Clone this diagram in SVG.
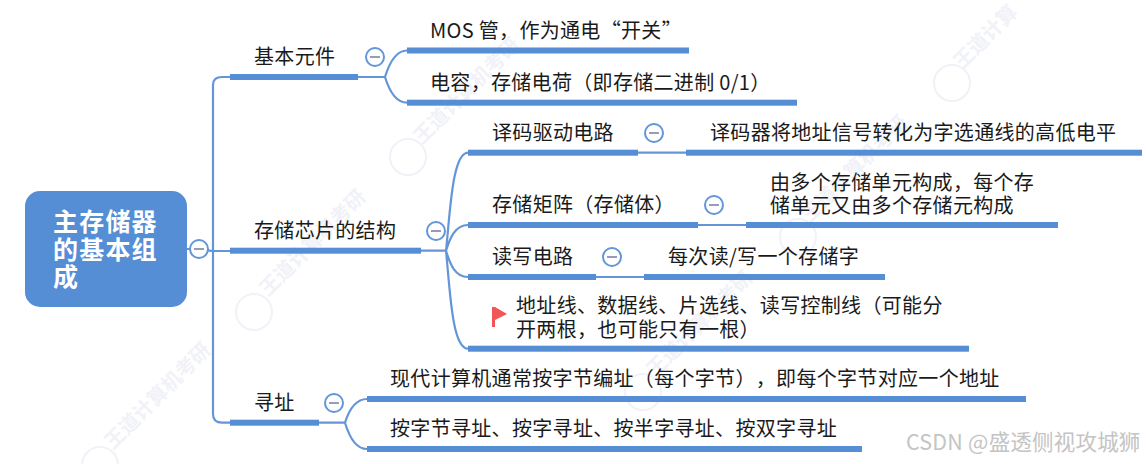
<svg xmlns="http://www.w3.org/2000/svg" width="1146" height="464" viewBox="0 0 1146 464">
<style>
text{font-family:"Noto Sans CJK SC","Liberation Sans",sans-serif;text-spacing-trim:space-all;}
.t{font-size:20px;fill:#1a1a1a;letter-spacing:.32px;}
.r{font-size:25px;fill:#fff;letter-spacing:1.2px;font-weight:700;}
.bar{fill:#558ed5;}
.c{fill:none;stroke:#6396d8;stroke-width:2.2;}
.o{fill:#fff;stroke:#6396d8;stroke-width:2;}
.m{stroke:#9a9ac0;stroke-width:2;}
.w{font-size:20px;fill:#f1f2f8;font-weight:700;}
.l{fill:none;stroke:#f1f2f8;stroke-width:2;}
</style>
<g id="watermarks">
<text class="w" transform="translate(422,145) rotate(-45)">王道计算机考研</text>
<text class="w" transform="translate(268,297) rotate(-45)">王道计算机考研</text>
<text class="w" transform="translate(113,450) rotate(-45)">王道计算机考研</text>
<text class="w" transform="translate(962,70) rotate(-45)">王道计算</text>
<text class="w" transform="translate(810,223) rotate(-45)">王道计算机考研</text>
<text class="w" transform="translate(655,378) rotate(-45)">王道计算机考研</text>
<circle class="l" cx="408" cy="157" r="18"/><circle class="l" cx="254" cy="312" r="18"/><circle class="l" cx="100" cy="465" r="18"/>
<circle class="l" cx="952" cy="83" r="18"/><circle class="l" cx="798" cy="237" r="18"/><circle class="l" cx="643" cy="392" r="18"/>
</g>
<g id="connectors">
<path class="c" d="M187 249H199C206 249 208 251 214 251H230M213 251V85Q213 77 222 77H230M213 251V414Q213 422.700 222 422.700H230"/>
<path class="c" d="M358 77H385M385 77C389 64 395 50.500 407 50.500M385 77C389 90 395 102.700 407 102.700"/>
<path class="c" d="M421 250.700H446M446 250.700C450 215 452 152.700 468 152.700M446 250.700C450 238 455 225 468 225M446 250.700C450 264 455 277 468 277M446 250.700C450 290 452 348.700 468 348.700"/>
<path class="c" d="M638 152.700H686M698 225H746M596 277H644"/>
<path class="c" d="M319 422.700H345M345 422.700C349 410 355 399 367 399M345 422.700C349 436 355 449 367 449"/>
</g>
<g id="root">
<rect x="25" y="191" width="162" height="116" rx="15" fill="#558ed5"/>
<text class="r" x="53" y="231">主存储器</text>
<text class="r" x="53" y="258.500">的基本组</text>
<text class="r" x="53" y="286">成</text>
<circle class="o" cx="199" cy="249" r="9"/><line class="m" x1="194" y1="249" x2="204" y2="249"/>
</g>
<g id="n1">
<rect class="bar" x="230" y="74" width="128" height="6"/>
<text class="t" x="254" y="64">基本元件</text>
<circle class="o" cx="375" cy="57" r="9"/><line class="m" x1="370" y1="57" x2="380" y2="57"/>
</g>
<g id="n1a"><rect class="bar" x="407" y="47.500" width="282" height="6"/><text class="t" x="430" y="38">MOS 管，作为通电“开关”</text></g>
<g id="n1b"><rect class="bar" x="407" y="99.700" width="390" height="6"/><text class="t" x="430" y="90">电容，存储电荷（即存储二进制 0/1）</text></g>
<g id="n2">
<rect class="bar" x="230" y="247.700" width="191" height="6"/>
<text class="t" x="254" y="238">存储芯片的结构</text>
<circle class="o" cx="436" cy="231" r="9"/><line class="m" x1="431" y1="231" x2="441" y2="231"/>
</g>
<g id="n2a">
<rect class="bar" x="468" y="149.700" width="170" height="6"/>
<text class="t" x="492" y="140">译码驱动电路</text>
<circle class="o" cx="654" cy="133" r="9"/><line class="m" x1="649" y1="133" x2="659" y2="133"/>
</g>
<g id="n2a1"><rect class="bar" x="686" y="149.700" width="456" height="6"/><text class="t" x="710" y="140">译码器将地址信号转化为字选通线的高低电平</text></g>
<g id="n2b">
<rect class="bar" x="468" y="222" width="230" height="6"/>
<text class="t" x="492" y="212">存储矩阵（存储体）</text>
<circle class="o" cx="714" cy="205" r="9"/><line class="m" x1="709" y1="205" x2="719" y2="205"/>
</g>
<g id="n2b1"><rect class="bar" x="746" y="222" width="312" height="6"/><text class="t" x="770" y="190">由多个存储单元构成，每个存</text><text class="t" x="770" y="213">储单元又由多个存储元构成</text></g>
<g id="n2c">
<rect class="bar" x="468" y="274" width="128" height="6"/>
<text class="t" x="492" y="264">读写电路</text>
<circle class="o" cx="612" cy="257" r="9"/><line class="m" x1="607" y1="257" x2="617" y2="257"/>
</g>
<g id="n2c1"><rect class="bar" x="644" y="274" width="241" height="6"/><text class="t" x="668" y="264">每次读/写一个存储字</text></g>
<g id="n2d">
<rect class="bar" x="468" y="345.700" width="501" height="6"/>
<path d="M492 307H495V327H492ZM495 307L507 314L495 320Z" fill="#f25555"/>
<text class="t" x="516" y="313">地址线、数据线、片选线、读写控制线（可能分</text>
<text class="t" x="516" y="337">开两根，也可能只有一根）</text>
</g>
<g id="n3">
<rect class="bar" x="230" y="419.700" width="89" height="6"/>
<text class="t" x="254" y="410">寻址</text>
<circle class="o" cx="334" cy="403" r="9"/><line class="m" x1="329" y1="403" x2="339" y2="403"/>
</g>
<g id="n3a"><rect class="bar" x="367" y="396" width="659" height="6"/><text class="t" x="390" y="386">现代计算机通常按字节编址（每个字节），即每个字节对应一个地址</text></g>
<g id="n3b"><rect class="bar" x="367" y="446" width="495" height="6"/><text class="t" x="390" y="436">按字节寻址、按字寻址、按半字寻址、按双字寻址</text></g>
<text x="906" y="450" font-size="21.500" fill="#c4c4c4" letter-spacing=".2">CSDN @盛透侧视攻城狮</text>
</svg>
